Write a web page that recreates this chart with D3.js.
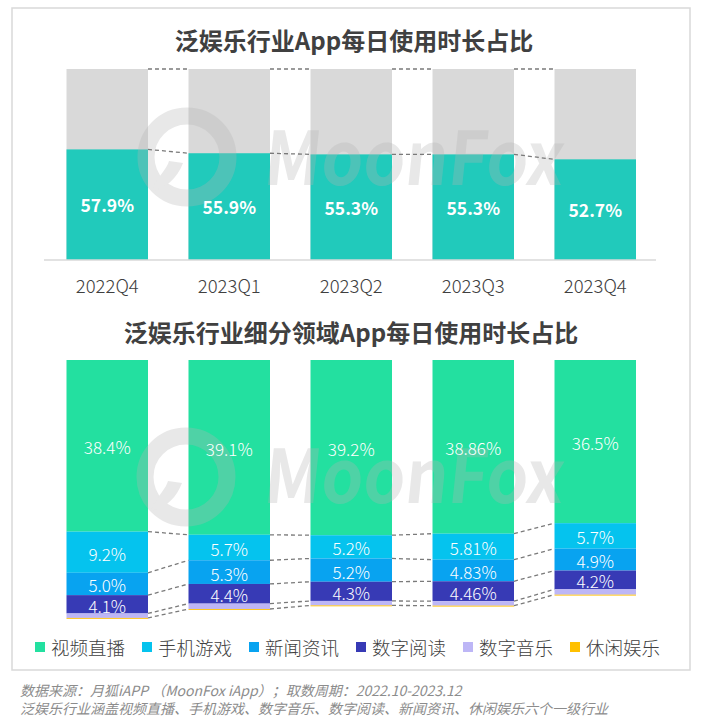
<!DOCTYPE html>
<html>
<head>
<meta charset="utf-8">
<script src="https://cdn.jsdelivr.net/npm/d3@7/dist/d3.min.js"></script>
<style>
  html, body { margin: 0; padding: 0; background: #ffffff; }
  svg { display: block; }
  text { font-family: "Noto Sans CJK SC", "Noto Sans", sans-serif; }
</style>
</head>
<body>
<svg id="chart" width="708" height="726"></svg>
<script>
// ---------- data ----------
const quarters = ["2022Q4", "2023Q1", "2023Q2", "2023Q3", "2023Q4"];
const totalShare = [57.9, 55.9, 55.3, 55.3, 52.7];

const segmentNames = ["视频直播", "手机游戏", "新闻资讯", "数字阅读", "数字音乐", "休闲娱乐"];
const videoLive = [38.4, 39.1, 39.2, 38.86, 36.5];
const mobileGame = [9.2, 5.7, 5.2, 5.81, 5.7];
const newsInfo = [5.0, 5.3, 5.2, 4.83, 4.9];
const digitalReading = [4.1, 4.4, 4.3, 4.46, 4.2];
const digitalMusic = [1.0, 1.2, 1.0, 1.0, 1.2];
const casualEnt = [0.2, 0.2, 0.2, 0.2, 0.2];

const title1 = "泛娱乐行业App每日使用时长占比";
const title2 = "泛娱乐行业细分领域App每日使用时长占比";
const footer1 = "数据来源：月狐iAPP （MoonFox iApp）；取数周期：2022.10-2023.12";
const footer2 = "泛娱乐行业涵盖视频直播、手机游戏、数字音乐、数字阅读、新闻资讯、休闲娱乐六个一级行业";

// ---------- styles ----------
const segColors = ["#23e0a0", "#05c3ee", "#08a3f0", "#373ab5", "#bdb6f6", "#ffc000"];
const teal = "#21cabb", grayBar = "#d9d9d9", dashColor = "#7a7a7a";

const svg = d3.select("#chart");

// outer frame
svg.append("rect").attr("x", 12).attr("y", 8).attr("width", 678).attr("height", 662)
  .attr("fill", "none").attr("stroke", "#d9d9d9").attr("stroke-width", 1.5);

// ---------- scales ----------
const x = d3.scaleBand().domain(quarters).range([66.5, 636]).paddingInner(0.332).paddingOuter(0);
const bw = x.bandwidth();
const yTop = d3.scaleLinear().domain([0, 100]).range([260, 69]);
const yBot = d3.scaleLinear().domain([0, 60]).range([360, 360 + 60 * 4.47]);

const fmt = v => (Math.round(v * 100) % 10 !== 0) ? v.toFixed(2) + "%" : v.toFixed(1) + "%";

// ---------- titles ----------
svg.append("text").attr("x", 354).attr("y", 50).attr("text-anchor", "middle")
  .attr("font-size", 24).attr("font-weight", 700).attr("fill", "#404040").text(title1);
svg.append("text").attr("x", 351).attr("y", 342).attr("text-anchor", "middle")
  .attr("font-size", 24).attr("font-weight", 700).attr("fill", "#404040").text(title2);

// ---------- top chart ----------
const gTop = svg.append("g");
gTop.selectAll("rect.bg").data(quarters).join("rect").attr("class", "bg")
  .attr("x", d => x(d)).attr("width", bw)
  .attr("y", yTop(100)).attr("height", yTop(0) - yTop(100)).attr("fill", grayBar);
gTop.selectAll("rect.fg").data(quarters).join("rect").attr("class", "fg")
  .attr("x", d => x(d)).attr("width", bw)
  .attr("y", (d, i) => yTop(totalShare[i])).attr("height", (d, i) => yTop(0) - yTop(totalShare[i]))
  .attr("fill", teal);

// x axis
const xAxis = d3.axisBottom(x).tickSize(0).tickPadding(0);
const axG = svg.append("g").attr("transform", "translate(0,260)").call(xAxis);
axG.select(".domain").remove();
axG.append("line").attr("x1", 44).attr("x2", 656).attr("y1", 0).attr("y2", 0)
  .attr("stroke", "#d9d9d9").attr("stroke-width", 1.5);
axG.selectAll(".tick text").attr("y", 33).attr("dy", null)
  .attr("font-size", 18.5).attr("font-weight", 300).attr("fill", "#404040")
  .attr("font-family", "\"Noto Sans CJK SC\", sans-serif");

// ---------- bottom chart ----------
const seriesArr = [videoLive, mobileGame, newsInfo, digitalReading, digitalMusic, casualEnt];
const rows = quarters.map((q, i) => {
  const r = { q };
  segmentNames.forEach((n, k) => r[n] = seriesArr[k][i]);
  return r;
});
const stack = d3.stack().keys(segmentNames)(rows);

const gBot = svg.append("g");
stack.forEach((layer, k) => {
  gBot.selectAll("rect.s" + k).data(layer).join("rect").attr("class", "s" + k)
    .attr("x", d => x(d.data.q)).attr("width", bw)
    .attr("y", d => yBot(d[0])).attr("height", d => yBot(d[1]) - yBot(d[0]))
    .attr("fill", segColors[k]);
});

// ---------- watermark ----------
function watermark(cx, cy, tx, ty) {
  const g = svg.append("g").attr("fill", "#b4b4b4").attr("opacity", 0.3);
  g.append("circle").attr("cx", cx).attr("cy", cy).attr("r", 41).attr("fill", "none")
    .attr("stroke", "#b4b4b4").attr("stroke-width", 17);
  g.append("path").attr("d",
    `M${cx - 36},${cy + 34} C${cx - 28},${cy + 18} ${cx - 20},${cy + 12} ${cx - 18},${cy + 4}
     L${cx - 4},${cy + 6} C${cx - 10},${cy + 22} ${cx - 22},${cy + 32} ${cx - 36},${cy + 34} Z`);
  g.append("text").attr("x", tx).attr("y", ty).attr("font-family", "Lato, 'Open Sans', sans-serif")
    .attr("font-weight", 700).attr("font-size", 74).attr("textLength", 300)
    .attr("lengthAdjust", "spacingAndGlyphs").attr("transform", `skewX(-6)`)
    .attr("transform-origin", `${tx} ${ty}`).text("MoonFox");
}
watermark(187, 157, 262, 185);
watermark(186, 477, 262, 503);

// ---------- connectors ----------
const dash = { stroke: dashColor, "stroke-width": 1.3, "stroke-dasharray": "4,3" };
function dline(g, x1, y1, x2, y2) {
  const l = g.append("line").attr("x1", x1).attr("y1", y1).attr("x2", x2).attr("y2", y2).attr("fill", "none");
  Object.entries(dash).forEach(([k, v]) => l.attr(k, v));
}
for (let i = 0; i < quarters.length - 1; i++) {
  const xa = x(quarters[i]) + bw, xb = x(quarters[i + 1]);
  dline(svg, xa, yTop(100), xb, yTop(100));
  dline(svg, xa, yTop(totalShare[i]), xb, yTop(totalShare[i + 1]));
  for (let k = 0; k < 5; k++) {
    dline(svg, xa, yBot(stack[k][i][1]), xb, yBot(stack[k][i + 1][1]));
  }
}

// ---------- labels ----------
svg.append("g").selectAll("text").data(quarters).join("text")
  .attr("x", d => x(d) + bw / 2).attr("y", (d, i) => (yTop(totalShare[i]) + yTop(0)) / 2)
  .attr("text-anchor", "middle").attr("dominant-baseline", "central")
  .attr("font-size", 17.5).attr("font-weight", 700).attr("fill", "#ffffff")
  .text((d, i) => fmt(totalShare[i]));

for (let k = 0; k < 4; k++) {
  svg.append("g").selectAll("text").data(stack[k]).join("text")
    .attr("x", d => x(d.data.q) + bw / 2).attr("y", d => (yBot(d[0]) + yBot(d[1])) / 2 + 1)
    .attr("text-anchor", "middle").attr("dominant-baseline", "central")
    .attr("font-size", 17).attr("font-weight", 300).attr("fill", "#ffffff")
    .text(d => fmt(d[1] - d[0]));
}

// ---------- legend ----------
const leg = svg.append("g");
const legItems = leg.selectAll("g").data(segmentNames).join("g")
  .attr("transform", (d, i) => `translate(${35 + i * 107},0)`);
legItems.append("rect").attr("x", 0).attr("y", 642).attr("width", 10).attr("height", 10)
  .attr("fill", (d, i) => segColors[i]);
legItems.append("text").attr("x", 16).attr("y", 647).attr("dominant-baseline", "central")
  .attr("font-size", 18.5).attr("font-weight", 300).attr("fill", "#404040").text(d => d);

// ---------- footer ----------
svg.append("text").attr("x", 20).attr("y", 690).attr("dominant-baseline", "central")
  .attr("font-size", 14).attr("font-style", "italic").attr("fill", "#8c8c8c").text(footer1);
svg.append("text").attr("x", 20).attr("y", 708).attr("dominant-baseline", "central")
  .attr("font-size", 14).attr("font-style", "italic").attr("fill", "#8c8c8c").text(footer2);
</script>
</body>
</html>
